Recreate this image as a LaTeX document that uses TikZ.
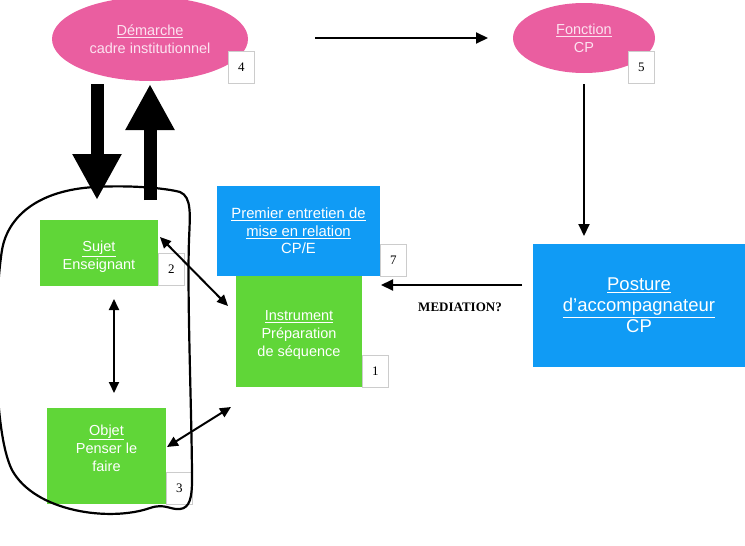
\documentclass[tikz,border=0pt]{standalone}
\usepackage{fontspec}
\setmainfont{Liberation Serif}
\newfontfamily\hv{Liberation Sans}
\usetikzlibrary{arrows.meta,shapes.geometric}
\definecolor{pinkc}{RGB}{234,94,160}
\definecolor{greenc}{RGB}{96,214,56}
\definecolor{bluec}{RGB}{16,155,245}
\definecolor{pinktxt}{RGB}{252,226,240}
\tikzset{
  ell/.style={ellipse,fill=pinkc,draw=none,text=pinktxt,align=center,font=\hv\fontsize{14.5}{18}\selectfont,inner sep=0pt},
  gbox/.style={rectangle,fill=greenc,draw=none,text=white,align=center,font=\hv\fontsize{14.5}{18}\selectfont,inner sep=0pt},
  bbox/.style={rectangle,fill=bluec,draw=none,text=white,align=center,font=\hv\fontsize{14.8}{17.5}\selectfont,inner sep=0pt},
  numbox/.style={rectangle,fill=white,draw=black!20,line width=0.8pt,minimum width=26pt,minimum height=32pt,inner sep=0pt,font=\fontsize{13}{13}\selectfont,anchor=north west},
  thin/.style={-{Triangle[length=12pt,width=11pt]},line width=2pt},
  dbl/.style={{Triangle[length=11pt,width=10pt]}-{Triangle[length=11pt,width=10pt]},line width=2pt},
  big/.style={-{Triangle[length=46pt,width=46pt]},line width=13pt}
}
\begin{document}
\begin{tikzpicture}[x=1pt,y=-1pt]
\useasboundingbox (0,0) rectangle (745,546);
% ellipses
\node[ell,minimum width=196pt,minimum height=84pt] (dem) at (150,39) {\underline{Démarche}\\cadre institutionnel};
\node[numbox] (n4) at (228,51) {4};
\node[ell,minimum width=142pt,minimum height=70pt] (fon) at (584,38) {\underline{Fonction}\\CP};
\node[numbox] (n5) at (628,51) {5};
% boxes
\node[gbox,minimum width=118pt,minimum height=66pt] (suj) at (99,253) {\rule{0pt}{19pt}\underline{Sujet}\\Enseignant};
\node[numbox] (n2) at (158,253) {2};
\node[gbox,minimum width=119pt,minimum height=96pt] (obj) at (106.5,456) {\underline{Objet}\\Penser le\\faire\\[-2pt]\mbox{}};
\node[numbox] (n3) at (166,472) {3};
\node[bbox,minimum width=163pt,minimum height=90pt] (pre) at (298.5,231) {\underline{Premier entretien de}\\\underline{mise en relation}\\CP/E};
\node[numbox] (n7) at (380,244) {7};
\node[gbox,minimum width=126pt,minimum height=111pt] (ins) at (299,331.5) {\rule{0pt}{18pt}\underline{Instrument}\\Préparation\\de séquence};
\node[numbox] (n1) at (362,355) {1};
\node[bbox,minimum width=212pt,minimum height=123pt,font=\hv\fontsize{18.5}{21}\selectfont] (pos) at (639,305.5) {\underline{Posture}\\\underline{d’accompagnateur}\\CP};
\node[font=\bfseries\fontsize{13}{13}\selectfont] (med) at (460,307) {MEDIATION?};
% blob
\draw[line width=2.2pt,line join=round] (95,187) .. controls (130,185) and (165,188) .. (180,192)
  .. controls (192,197) and (190,215) .. (189,240)
  .. controls (187,300) and (192,420) .. (192,480)
  .. controls (192,497) and (190,508) .. (180,509)
  .. controls (170,510) and (165,503) .. (150,508)
  .. controls (110,522) and (35,512) .. (12,470)
  .. controls (-8,430) and (-6,300) .. (2,250)
  .. controls (8,215) and (40,190) .. (95,187) -- cycle;
% coordinates for connectors
\coordinate (a1) at (315,38);
\coordinate (a2) at (488,38);
\coordinate (bd1) at (97,84);
\coordinate (bd2) at (97,200);
\coordinate (bu1) at (150,200);
\coordinate (bu2) at (150,84);
\coordinate (f1) at (584,84);
\coordinate (f2) at (584,236);
\coordinate (m1) at (522,285);
\coordinate (m2) at (381,285);
\coordinate (v1) at (114,299);
\coordinate (v2) at (114,393);
\coordinate (s1) at (160,237);
\coordinate (s2) at (228,306);
\coordinate (o1) at (167,447);
\coordinate (o2) at (231,407);
% connectors
\draw[thin] (a1) -- (a2);
\draw[big] (bd1) -- (bd2);
\draw[big] (bu1) -- (bu2);
\draw[thin] (f1) -- (f2);
\draw[thin] (m1) -- (m2);
\draw[dbl] (v1) -- (v2);
\draw[dbl] (s1) -- (s2);
\draw[dbl] (o1) -- (o2);
\end{tikzpicture}
\end{document}
